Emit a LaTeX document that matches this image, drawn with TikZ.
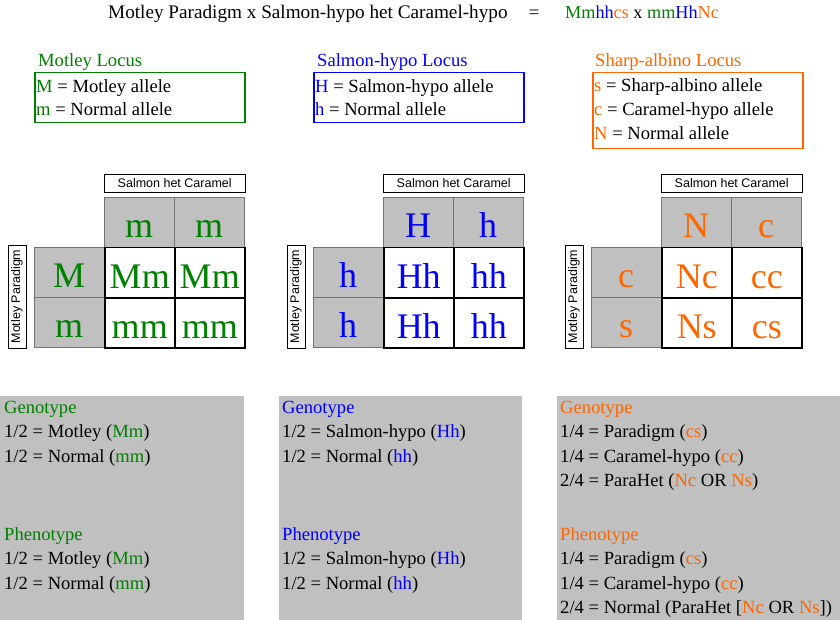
\documentclass[tikz,border=0pt]{standalone}
\usepackage{fontspec}
\setmainfont{Liberation Serif}
\setsansfont{Liberation Sans}
\usepackage{xcolor}
\usetikzlibrary{positioning}
\definecolor{motley}{RGB}{0,128,0}
\definecolor{salmon}{RGB}{0,0,255}
\definecolor{sharp}{RGB}{255,102,0}
\definecolor{silver}{RGB}{192,192,192}
\definecolor{ink}{RGB}{0,0,0}
\newcommand{\bodyfont}{\rmfamily\fontsize{18.6}{22}\selectfont}
\newcommand{\titlefont}{\rmfamily\fontsize{19.2}{22}\selectfont}
\newcommand{\cellfont}{\rmfamily\fontsize{36}{40}\selectfont}
\newcommand{\tagfont}{\sffamily\fontsize{12.5}{14}\selectfont}
\newcommand{\mot}[1]{\textcolor{motley}{#1}}
\newcommand{\sal}[1]{\textcolor{salmon}{#1}}
\newcommand{\shp}[1]{\textcolor{sharp}{#1}}

\begin{document}
\begin{tikzpicture}[x=1pt,y=-1pt,
  body/.style={anchor=base west,inner sep=0,text=ink,font=\bodyfont},
  legendbox/.style={draw,line width=1.5pt,anchor=north west,minimum width=210,inner sep=0},
  graycell/.style={fill=silver,draw=black!55,anchor=north west,minimum width=70,
    minimum height=50,inner sep=0,text height=31,text depth=0,font=\cellfont},
  whitecell/.style={graycell,fill=white,draw=black,line width=1.5pt},
  tag/.style={draw,fill=white,inner sep=0,font=\tagfont,minimum height=18},
  panel/.style={fill=silver,anchor=north west,minimum height=224,inner sep=0}]
\useasboundingbox (0,0) rectangle (840,620);

% --- title ---
\node[body,font=\titlefont] (title) at (108,19) {Motley Paradigm x Salmon-hypo het Caramel-hypo};
\node[body,anchor=base] (eq) at (534,19) {=};
\node[body,font=\fontsize{18.2}{22}\selectfont] (cross) at (565,19) {\mot{Mm}\sal{hh}\shp{cs} x \mot{mm}\sal{Hh}\shp{Nc}};

% --- loci ---
\node[body,text=motley] (mhead) at (38,67) {Motley Locus};
\node[legendbox,draw=motley,minimum height=50] (mbox) at (34,72) {};
\node[body] (m1) at (36,92.5) {\mot{M} = Motley allele};
\node[body] (m2) at (36,115.5) {\mot{m} = Normal allele};

\node[body,text=salmon] (shead) at (317,67) {Salmon-hypo Locus};
\node[legendbox,draw=salmon,minimum height=50] (sbox) at (313,72) {};
\node[body] (s1) at (315,92.5) {\sal{H} = Salmon-hypo allele};
\node[body] (s2) at (315,115.5) {\sal{h} = Normal allele};

\node[body,text=sharp] (ahead) at (595,67) {Sharp-albino Locus};
\node[legendbox,draw=sharp,minimum height=76] (abox) at (592,72) {};
\node[body] (a1) at (594,92) {\shp{s} = Sharp-albino allele};
\node[body] (a2) at (594,116) {\shp{c} = Caramel-hypo allele};
\node[body] (a3) at (594,140) {\shp{N} = Normal allele};

% --- punnett squares ---
\foreach \ox/\sq/\col/\ha/\hb/\ra/\rb/\ca/\cb/\cc/\cd in
  {0/a/motley/m/m/M/m/Mm/Mm/mm/mm,
   279/b/salmon/H/h/h/h/Hh/hh/Hh/hh,
   557/c/sharp/N/c/c/s/Nc/cc/Ns/cs}{
  \node[tag,anchor=north west,minimum width=141] (top\sq) at (\ox+104,174) {Salmon het Caramel};
  \node[tag,rotate=90,minimum width=103] (side\sq) at (\ox+17,296.5) {Motley Paradigm};
  \node[graycell,text=\col] (\sq h1) at (\ox+104,197) {\ha};
  \node[graycell,text=\col] (\sq h2) at (\ox+174,197) {\hb};
  \node[graycell,text=\col] (\sq r1) at (\ox+34,247) {\ra};
  \node[graycell,text=\col] (\sq r2) at (\ox+34,297) {\rb};
  \node[whitecell,text=\col] (\sq c1) at (\ox+104,247) {\ca};
  \node[whitecell,text=\col] (\sq c2) at (\ox+174,247) {\cb};
  \node[whitecell,text=\col] (\sq c3) at (\ox+104,297) {\cc};
  \node[whitecell,text=\col] (\sq c4) at (\ox+174,297) {\cd};
}

% --- ratios ---
\node[panel,minimum width=244] (pa) at (0,396) {};
\node[panel,minimum width=243] (pb) at (279,396) {};
\node[panel,minimum width=283] (pc) at (557,396) {};

\node[body,text=motley] (ga) at (4,413) {Genotype};
\node[body] (ga1) at (4,437.5) {1/2 = Motley (\mot{Mm})};
\node[body] (ga2) at (4,462) {1/2 = Normal (\mot{mm})};
\node[body,text=motley] (fa) at (4,540) {Phenotype};
\node[body] (fa1) at (4,564.5) {1/2 = Motley (\mot{Mm})};
\node[body] (fa2) at (4,589) {1/2 = Normal (\mot{mm})};

\node[body,text=salmon] (gb) at (282,413) {Genotype};
\node[body] (gb1) at (282,437.5) {1/2 = Salmon-hypo (\sal{Hh})};
\node[body] (gb2) at (282,462) {1/2 = Normal (\sal{hh})};
\node[body,text=salmon] (fb) at (282,540) {Phenotype};
\node[body] (fb1) at (282,564.5) {1/2 = Salmon-hypo (\sal{Hh})};
\node[body] (fb2) at (282,589) {1/2 = Normal (\sal{hh})};

\node[body,text=sharp] (gc) at (560,413) {Genotype};
\node[body] (gc1) at (560,437.5) {1/4 = Paradigm (\shp{cs})};
\node[body] (gc2) at (560,462) {1/4 = Caramel-hypo (\shp{cc})};
\node[body] (gc3) at (560,486.5) {2/4 = ParaHet (\shp{Nc} OR \shp{Ns})};
\node[body,text=sharp] (fc) at (560,540) {Phenotype};
\node[body] (fc1) at (560,564.5) {1/4 = Paradigm (\shp{cs})};
\node[body] (fc2) at (560,589) {1/4 = Caramel-hypo (\shp{cc})};
\node[body] (fc3) at (560,613.5) {2/4 = Normal (ParaHet [\shp{Nc} OR \shp{Ns}])};
\end{tikzpicture}
\end{document}
